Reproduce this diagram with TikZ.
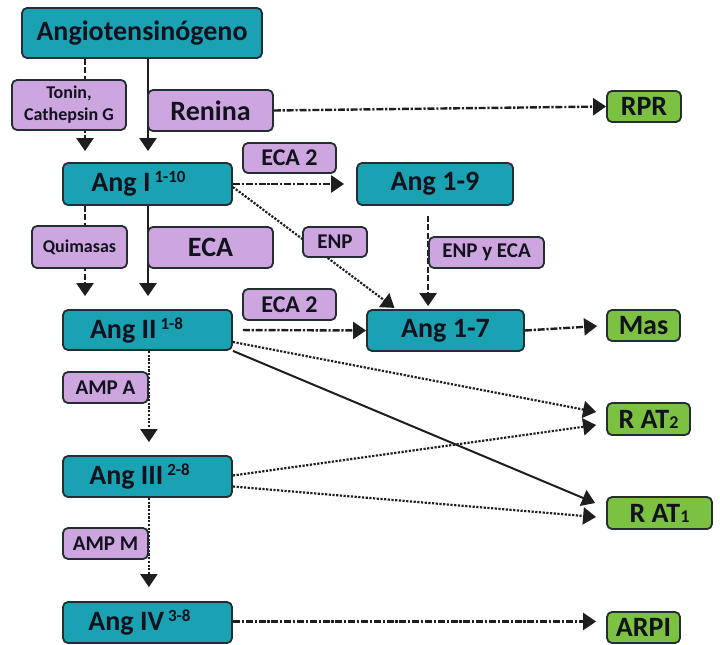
\documentclass[tikz,border=0pt]{standalone}
\usepackage{fontspec}
\setmainfont{Carlito}
\usetikzlibrary{arrows.meta,backgrounds,calc}
\definecolor{tealc}{RGB}{26,161,178}
\definecolor{lavc}{RGB}{205,166,224}
\definecolor{grnc}{RGB}{125,193,66}
\definecolor{edgec}{RGB}{35,45,50}
\definecolor{txtc}{RGB}{18,18,30}
\definecolor{linec}{RGB}{30,30,30}
\newcommand{\bigf}{\fontsize{28}{30}\selectfont}
\newcommand{\ecaf}{\fontsize{24}{26}\selectfont}
\newcommand{\medf}{\fontsize{21}{23}\selectfont}
\newcommand{\smlf}{\fontsize{18}{22}\selectfont}
\newcommand{\supx}[1]{\hspace{4pt}\raisebox{9pt}{\fontsize{17}{17}\selectfont #1}}
\newcommand{\subx}[1]{{\fontsize{18}{18}\selectfont #1}}
\tikzset{
  box/.style={draw=edgec, line width=1.8pt, rounded corners=5pt, text=txtc, font=\bfseries, inner sep=0pt},
  tealbox/.style={box, fill=tealc},
  lavbox/.style={box, fill=lavc},
  grnbox/.style={box, fill=grnc},
  conn/.style={line width=2.4pt, draw=linec, -{Triangle[length=13pt,width=17pt,fill=linec]}},
  dashln/.style={conn, dash pattern=on 6pt off 2.5pt},
  dashdot/.style={conn, dash pattern=on 7pt off 1.8pt on 2.2pt off 1.8pt},
  dotln/.style={conn, line width=2.2pt, dash pattern=on 2.2pt off 1.5pt},
  solidln/.style={conn},
}
\begin{document}
\begin{tikzpicture}[x=1pt,y=-1pt]
\useasboundingbox (0,0) rectangle (720,645);
% teal nodes
\node[tealbox, minimum width=240pt, minimum height=50pt] (angt) at (142,33) {\bigf Angiotensinógeno};
\node[tealbox, minimum width=169pt, minimum height=42pt] (angI) at (147.5,184) {\bigf Ang I\supx{1-10}\hspace*{18pt}};
\node[tealbox, minimum width=156pt, minimum height=42pt] (ang19) at (435,184) {\bigf Ang 1-9};
\node[tealbox, minimum width=169pt, minimum height=40pt] (angII) at (147.5,330) {\bigf Ang II\supx{1-8}\hspace*{22pt}};
\node[tealbox, minimum width=157pt, minimum height=41pt] (ang17) at (445.5,330.5) {\bigf Ang 1-7};
\node[tealbox, minimum width=169pt, minimum height=41pt] (angIII) at (147.5,476.5) {\bigf Ang III\supx{2-8}\hspace*{16pt}};
\node[tealbox, minimum width=169pt, minimum height=41pt] (angIV) at (147.5,622.5) {\bigf Ang IV\supx{3-8}\hspace*{16pt}};
% lavender nodes
\node[lavbox, minimum width=114pt, minimum height=50pt, align=center, font=\bfseries\smlf] (tonin) at (69,105) {Tonin,\\Cathepsin G};
\node[lavbox, minimum width=125pt, minimum height=41pt] (renina) at (210.5,110.5) {\bigf Renina};
\node[lavbox, minimum width=93pt, minimum height=30pt] (eca2a) at (289.5,158) {\ecaf ECA 2};
\node[lavbox, minimum width=95pt, minimum height=42pt] (quim) at (79.5,247) {\smlf Quimasas};
\node[lavbox, minimum width=125pt, minimum height=41pt] (eca) at (210.5,247.5) {\bigf ECA};
\node[lavbox, minimum width=64pt, minimum height=30pt] (enp) at (335,242) {\medf ENP};
\node[lavbox, minimum width=115pt, minimum height=31pt] (enpeca) at (486.5,252.5) {\medf ENP y ECA};
\node[lavbox, minimum width=93pt, minimum height=31pt] (eca2b) at (289.5,304.5) {\ecaf ECA 2};
\node[lavbox, minimum width=85pt, minimum height=31pt] (ampa) at (105.5,387.5) {\medf AMP A};
\node[lavbox, minimum width=85pt, minimum height=31pt] (ampm) at (105.5,543.5) {\medf AMP M};
% green nodes
\node[grnbox, minimum width=74pt, minimum height=31pt] (rpr) at (644,106.5) {\bigf RPR};
\node[grnbox, minimum width=73pt, minimum height=31pt] (mas) at (643.5,325.5) {\bigf Mas};
\node[grnbox, minimum width=83pt, minimum height=32pt] (rat2) at (648.5,419) {\bigf R AT\subx{2}};
\node[grnbox, minimum width=105pt, minimum height=32pt] (rat1) at (659.5,513) {\bigf R AT\subx{1}};
\node[grnbox, minimum width=73pt, minimum height=31pt] (arpi) at (643.5,627.5) {\bigf ARPI};
% connectors
\begin{pgfonlayer}{background}
\draw[dashln, shorten >=11pt] (angt.south -| 85,0) -- (angI.north -| 85,0);
\draw[solidln, shorten >=11pt] (angt.south -| 148,0) -- (angI.north -| 148,0);
\draw[dashdot] (renina.east) -- (rpr.west);
\draw[dashdot, shorten >=12pt] (angI.east) -- (ang19.west);
\draw[dotln, shorten >=2pt] ($(angI.east)+(0,3)$) -- ($(ang17.north west)+(30,0)$);
\draw[dashln, shorten <=10pt, shorten >=3pt] (ang19.south -| enpeca.west) -- (ang17.north -| enpeca.west);
\draw[dashln, shorten >=13pt] (angI.south -| 85,0) -- (angII.north -| 85,0);
\draw[solidln, shorten >=13pt] (angI.south -| 148,0) -- (angII.north -| 148,0);
\draw[dashdot, shorten <=10pt] (angII.east) -- (ang17.west);
\draw[dashdot, shorten >=9pt] (ang17.east) -- (mas.west);
\draw[dotln] ($(angII.east)+(0,12)$) -- ($(rat2.west)+(-10,-7)$);
\draw[solidln, line width=2pt] (angII.south east) -- ($(rat1.west)+(-11,-10)$);
\draw[dotln] ($(angIII.east)+(0,-1)$) -- ($(rat2.west)+(-10,6)$);
\draw[dotln] ($(angIII.east)+(0,10)$) -- ($(rat1.west)+(-10,4)$);
\draw[dotln, shorten >=13pt] (angII.south -| ampa.east) -- (angIII.north -| ampa.east);
\draw[dotln, shorten >=14pt] (angIII.south -| ampm.east) -- (angIV.north -| ampm.east);
\draw[dashdot, shorten >=10pt] ($(angIV.east)+(0,-1)$) -- ($(arpi.west)+(0,-6)$);
\end{pgfonlayer}
\end{tikzpicture}
\end{document}
